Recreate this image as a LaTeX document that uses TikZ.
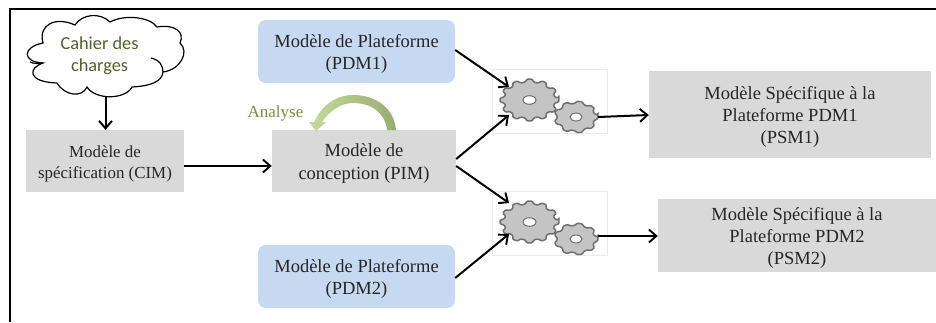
\documentclass[tikz,border=0pt]{standalone}
\usepackage{fontspec}
\setmainfont{Liberation Serif}
\newfontfamily\calib{Carlito}
\usetikzlibrary{arrows.meta}
\definecolor{boxgray}{HTML}{D9D9D9}
\definecolor{boxblue}{HTML}{C6D9F1}
\definecolor{olive}{HTML}{4F6228}
\definecolor{anagreen}{HTML}{76923C}
\definecolor{gearfill}{HTML}{C4C4C4}
\definecolor{gearline}{HTML}{707070}
\definecolor{boxgreenA}{HTML}{C6DA9C}
\definecolor{boxgreenB}{HTML}{98AC72}
\newcommand{\lowstrut}{\rule{0pt}{18pt}}
\tikzset{
  graybox/.style={fill=boxgray,draw=none,inner sep=0pt,align=center,text=black!85},
  bluebox/.style={fill=boxblue,draw=none,rounded corners=8pt,inner sep=0pt,align=center,text=black!85},
  gearbox/.style={draw=black!8,fill=white,line width=.6pt,inner sep=0pt},
  conn/.style={-{Straight Barb[length=7.5pt,width=13pt,line width=1.9pt]},line width=2pt,black},
  txtA/.style={font=\fontsize{18.5}{22.3}\selectfont},
  txtB/.style={font=\fontsize{16.9}{21.5}\selectfont},
  gearpath/.style={fill=gearfill,draw=gearline,line width=1.5pt,rounded corners=1.2pt},
}
\newcommand{\gearat}[7]{% x,y,outer,inner,teeth,hole rx, y-squash
  \pgfmathsetmacro{\st}{360/#5}
  \draw[gearpath] ({#1+#3*cos(-0.2*\st)},{#2+#7*#3*sin(-0.2*\st)})
   \foreach \k in {1,...,#5}{
     -- ({#1+#3*cos((\k-1)*\st+0.2*\st)},{#2+#7*#3*sin((\k-1)*\st+0.2*\st)})
     -- ({#1+#4*cos((\k-1)*\st+0.3*\st)},{#2+#7*#4*sin((\k-1)*\st+0.3*\st)})
     -- ({#1+#4*cos((\k-1)*\st+0.7*\st)},{#2+#7*#4*sin((\k-1)*\st+0.7*\st)})
     -- ({#1+#3*cos((\k-1)*\st+0.8*\st)},{#2+#7*#3*sin((\k-1)*\st+0.8*\st)})
   } -- cycle;
  \draw[fill=white,draw=gearline,line width=1pt] (#1,#2) ellipse ({#6} and {#6*0.66});
}
\begin{document}
\begin{tikzpicture}[x=1pt,y=-1pt]
\useasboundingbox (0,0) rectangle (936,322);
\fill[white] (0,0) rectangle (936,322);
% frame
\draw[line width=2pt,black] (9.5,322) -- (9.5,8.5) -- (936,8.5);
% cloud
\draw[line width=1.2pt,black,fill=white]
 (43,43) .. controls (22,47) and (22,62) .. (43,63)
 .. controls (28,68) and (27,82) .. (57,83)
 .. controls (65,96) and (82,98) .. (87,87)
 .. controls (95,100) and (125,100) .. (132,87)
 .. controls (150,86) and (162,82) .. (163,72)
 .. controls (180,70) and (190,52) .. (180,43)
 .. controls (185,32) and (175,24) .. (157,27)
 .. controls (150,17) and (125,14) .. (110,22)
 .. controls (100,12) and (82,14) .. (75,25)
 .. controls (55,16) and (38,25) .. (43,43) -- cycle;
\draw[line width=1.2pt,black] (151,58) .. controls (160,60) and (163,66) .. (163,72);
\draw[line width=1.2pt,black] (43,63) .. controls (38,63) and (33,64) .. (30,62);
\node[inner sep=0pt,align=center,text=olive,font=\calib\fontsize{18.3}{22}\selectfont] (cloud) at (99.5,56) {Cahier des\\charges};
\coordinate (cloudb) at (105.5,96);
% boxes
\node[graybox,txtB,minimum width=158pt,minimum height=62pt] (cim) at (105,161) {\lowstrut Modèle de\\spécification (CIM)};
\node[graybox,txtA,minimum width=184pt,minimum height=62pt] (pim) at (364,161) {\lowstrut Modèle de\\conception (PIM)};
\node[bluebox,txtA,minimum width=197pt,minimum height=63pt] (pdma) at (356.5,51.5) {\lowstrut Modèle de Plateforme\\(PDM1)};
\node[bluebox,txtA,minimum width=197pt,minimum height=63pt] (pdmb) at (356.5,276.5) {\lowstrut Modèle de Plateforme\\(PDM2)};
\node[graybox,txtA,minimum width=282pt,minimum height=87pt] (psma) at (790,114.5) {\lowstrut Modèle Spécifique à la\\Plateforme PDM1\\(PSM1)};
\node[graybox,txtA,minimum width=278pt,minimum height=73pt] (psmb) at (797,235.5) {\lowstrut Modèle Spécifique à la\\Plateforme PDM2\\(PSM2)};
% gear boxes
\node[gearbox,minimum width=115pt,minimum height=64pt] (ga) at (549.5,101) {};
\node[gearbox,minimum width=115pt,minimum height=64pt] (gb) at (549.5,223) {};
\gearat{529.5}{100}{29.5}{25.5}{12}{6.5}{0.71}
\gearat{576}{117}{22}{19}{9}{6}{0.72}
\gearat{529.5}{222}{29.5}{25.5}{12}{6.5}{0.71}
\gearat{576}{239}{22}{19}{9}{6}{0.72}
% named anchors for connectors
\coordinate (gaa) at (509,87);
\coordinate (gab) at (509,115);
\coordinate (gac) at (598,117);
\coordinate (gba) at (509,203);
\coordinate (gbb) at (509,234);
\coordinate (gbc) at (598,236);
% connectors
\draw[conn] (cloudb) -- (cim.north -| cloudb);
\draw[conn] (cim.east |- 0,166) -- (pim.west |- 0,166);
\draw[conn] (pdma.east |- 0,50) -- (gaa);
\draw[conn] (pim.east |- 0,159) -- (gab);
\draw[conn] (pim.east |- 0,166) -- (gba);
\draw[conn] (pdmb.east |- 0,278) -- (gbb);
\draw[conn] (gac) -- (psma.west |- 0,115);
\draw[conn] (gbc) -- (psmb.west |- 0,236);
% curved arrow
\shade[left color=boxgreenA,right color=boxgreenB] (396,130) .. controls (394,108) and (376,95) .. (353,95)
  .. controls (335,95) and (321,107) .. (314,122) -- (309,122) -- (316,131) -- (326,122) -- (322,122)
  .. controls (330,110) and (342,103) .. (353,103)
  .. controls (372,103) and (385,113) .. (387,130) -- cycle;
\node[inner sep=0pt,text=anagreen,font=\fontsize{17}{18}\selectfont] (ana) at (275.5,113) {Analyse};
\end{tikzpicture}
\end{document}
